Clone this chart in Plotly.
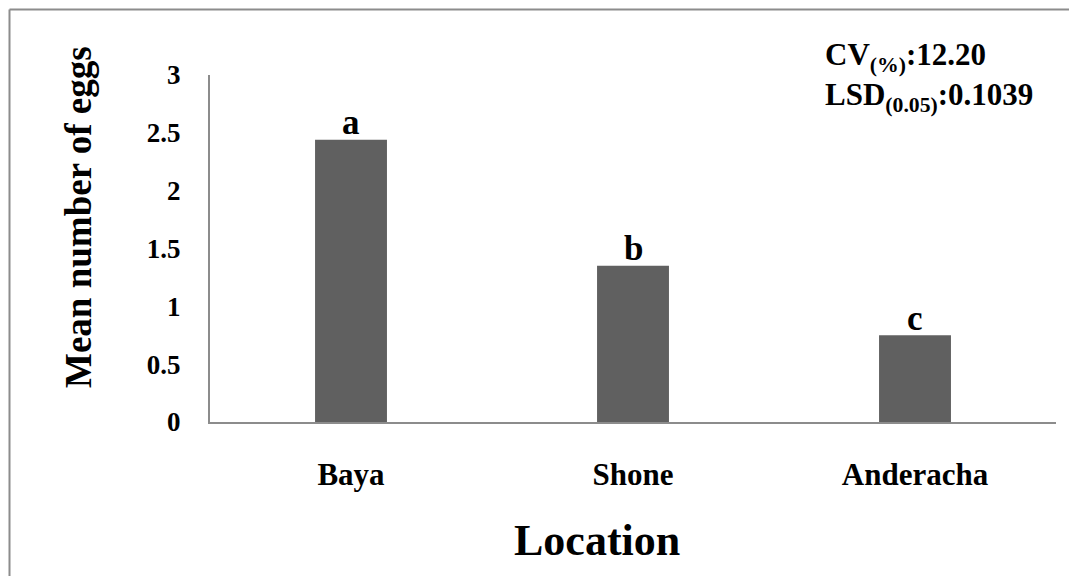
import plotly.graph_objects as go

locations = ["Baya", "Shone", "Anderacha"]
mean_eggs = [2.44, 1.35, 0.75]
letters = ["a", "b", "c"]
y_ticks = [0, 0.5, 1, 1.5, 2, 2.5, 3]
y_tick_labels = ["0", "0.5", "1", "1.5", "2", "2.5", "3"]

FONT = "Liberation Serif, Times New Roman, serif"

# plot area in page pixels: x 210..1056, y 75..422
def px(x):
    return (x - 210) / 846

def py(y):
    return (422 - y) / 347

fig = go.Figure()
fig.add_trace(go.Bar(
    x=locations, y=mean_eggs, width=0.255,
    marker=dict(color="#606060", line=dict(width=0)),
    showlegend=False, hoverinfo="x+y",
))

for loc, val, let in zip(locations, mean_eggs, letters):
    fig.add_annotation(x=loc, y=val, text=let, showarrow=False,
                       xref="x", yref="y", xanchor="center", yanchor="middle", yshift=17,
                       font=dict(family=FONT, size=35, color="black", weight="bold"))

# axis titles
fig.add_annotation(x=px(78), y=py(217), xref="paper", yref="paper",
                   xanchor="center", yanchor="middle",
                   text="Mean number of eggs", textangle=-90, showarrow=False,
                   font=dict(family=FONT, size=37, color="black", weight="bold"))
fig.add_annotation(x=px(597), y=py(540), xref="paper", yref="paper",
                   xanchor="center", yanchor="middle",
                   text="Location", showarrow=False,
                   font=dict(family=FONT, size=44, color="black", weight="bold"))
# statistics
fig.add_annotation(x=px(823), y=py(35), xref="paper", yref="paper",
                   xanchor="left", yanchor="top", align="left",
                   text="CV<sub>(%)</sub>:12.20<br>LSD<sub>(0.05)</sub>:0.1039",
                   showarrow=False,
                   font=dict(family=FONT, size=31, color="black", weight="bold"))

# outer frame (left and top edges)
fig.add_shape(type="line", xref="paper", yref="paper",
              x0=px(9.5), x1=px(9.5), y0=py(9.5), y1=py(700),
              line=dict(color="#8c8c8c", width=2))
fig.add_shape(type="line", xref="paper", yref="paper",
              x0=px(9.5), x1=px(1200), y0=py(9.5), y1=py(9.5),
              line=dict(color="#8c8c8c", width=2))

fig.update_layout(
    width=1077, height=576,
    margin=dict(l=202, r=29, t=67, b=162),
    plot_bgcolor="white", paper_bgcolor="white",
    xaxis=dict(showline=True, linecolor="#8c8c8c", linewidth=2, showgrid=False,
               ticks="", ticklabelstandoff=24,
               tickfont=dict(family=FONT, size=31, color="black", weight="bold")),
    yaxis=dict(range=[0, 3], showline=True, linecolor="#8c8c8c", linewidth=2, showgrid=False,
               zeroline=False, ticks="", tickvals=y_ticks, ticktext=y_tick_labels,
               ticklabelstandoff=22,
               tickfont=dict(family=FONT, size=27, color="black", weight="bold")),
)

fig.write_html("out.html")
